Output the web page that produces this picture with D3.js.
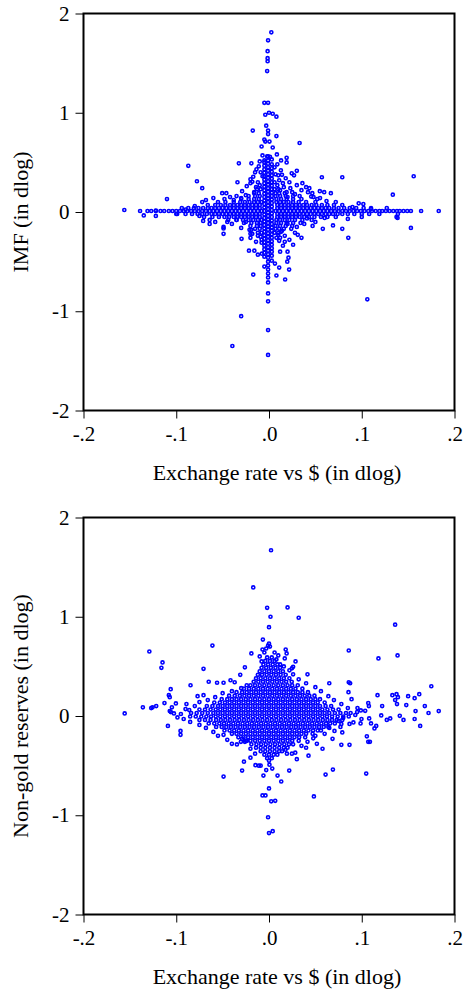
<!DOCTYPE html>
<html>
<head>
<meta charset="utf-8">
<script src="https://cdn.jsdelivr.net/npm/d3@7"></script>
<style>
  body { margin: 0; background: #fff; }
  svg text { font-family: "Liberation Serif", "DejaVu Serif", serif; }
</style>
</head>
<body>
<div id="chart"></div>
<script>
// axis labels
const xTicks = [-0.2, -0.1, 0, 0.1, 0.2];
const xTickLabels = ["-.2", "-.1", ".0", ".1", ".2"];
const yTicks = [-2, -1, 0, 1, 2];
const xTitle = "Exchange rate vs $ (in dlog)";
const imfTitle = "IMF (in dlog)";
const resTitle = "Non-gold reserves (in dlog)";

// IMF panel: dense horizontal band, rows of [y, [x...]]
const imfBandRows = [
  [.01, [-.139,-.131,-.127,-.122,-.117,-.113,-.108,-.104,-.1,-.096,-.092,-.088,-.084,-.08,-.076,-.072,-.068,-.064,-.06,-.056,-.052,-.048,-.044,-.04,-.036,-.032,-.028,-.024,-.02,-.016,-.012,-.008,.007,.011,.015,.019,.023,.027,.031,.035,.039,.043,.047,.051,.055,.059,.063,.067,.071,.075,.079,.083,.087,.091,.095,.099,.103,.107,.111,.115,.119,.122,.126,.13,.134,.138,.141,.145,.149,.153,.164,.183]],
  [.04, [-.094,-.087,-.081,-.076,-.071,-.066,-.062,-.058,-.054,-.05,-.046,-.042,-.038,-.034,-.03,-.026,-.022,-.018,-.014,-.01,.009,.013,.017,.021,.025,.029,.033,.037,.041,.045,.049,.053,.057,.061,.065,.07,.075,.081,.087,.094,.102,.11,.127]],
  [-.02, [-.099,-.09,-.083,-.077,-.072,-.067,-.062,-.058,-.054,-.05,-.046,-.042,-.038,-.034,-.03,-.026,-.022,-.018,-.014,-.01,.009,.013,.017,.021,.025,.029,.033,.037,.041,.045,.049,.053,.057,.061,.065,.069,.074,.079,.085,.092,.1,.108,.119,.139]],
  [.07, [-.066,-.058,-.052,-.047,-.042,-.038,-.034,-.03,-.026,-.022,-.018,-.014,-.01,.009,.013,.017,.021,.025,.029,.033,.037,.041,.046,.051,.057,.063,.07,.079]],
  [-.05, [-.07,-.061,-.054,-.048,-.043,-.038,-.034,-.03,-.026,-.022,-.018,-.014,-.01,.009,.013,.017,.021,.025,.029,.033,.038,.043,.049,.056,.063,.072]],
  [.10, [-.047,-.038,-.031,-.026,-.021,-.016,-.012,-.008,.008,.012,.016,.021,.026,.032,.04,.05]],
  [-.08, [-.044,-.035,-.028,-.022,-.017,-.012,-.008,.008,.012,.017,.022,.028,.036,.046]],
  [.13, [-.03,-.022,-.016,-.011,.008,.013,.019,.026,.035]],
  [-.11, [-.027,-.019,-.013,-.009,.008,.013,.019,.026,.034]],
  [.16, [-.022,-.015,-.01,.007,.012,.018,.026]],
  [-.14, [-.02,-.013,-.009,.007,.012,.018,.025]],
  [.19, [-.016,-.011,.007,.011,.017]],
  [-.17, [-.015,-.01,.007,.011,.016]],
  [.23, [-.013,-.009,.006,.01]],
  [-.21, [-.012,-.008,.006,.01]]
];

// IMF panel: vertical spine near x = 0, columns of [x, [y...]]
const imfSpineCols = [
  [-.001, [.56,.52,.485,.45,.415,.38,.345,.31,.275,.24,.205,.17,.135,.1,.065,.03,-.005,-.04,-.075,-.11,-.145,-.18,-.215,-.25,-.285,-.32,-.355,-.39,-.425,-.46,-.5,-.54,-.58,-.62]],
  [-.005, [.5,.465,.43,.395,.36,.325,.29,.255,.22,.185,.15,.115,.08,.045,.01,-.025,-.06,-.095,-.13,-.165,-.2,-.235,-.27,-.305,-.34,-.375,-.41,-.45]],
  [.003, [.53,.48,.44,.405,.37,.335,.3,.265,.23,.195,.16,.125,.09,.055,.02,-.015,-.05,-.085,-.12,-.155,-.19,-.225,-.26,-.295,-.33,-.365,-.4,-.44,-.49]]
];

// IMF panel: scattered points [x, y]
const imfScatter = [
  [.0025,1.81],[-.001,1.73],[-.0015,1.62],[-.0015,1.55],[-.0015,1.52],[-.002,1.42],
  [-.005,1.10],[-.001,1.10],[-.004,.98],[0,1.0],[.004,.99],[.008,.96],
  [-.0175,.82],[-.003,.87],[-.001,.82],[-.001,.785],[-.005,.73],[-.004,.71],[.0005,.71],[.008,.765],[.033,.695],[-.008,.66],[.0085,.58],[-.007,.57],[-.002,.56],[.001,.556],
  [.019,.546],[.019,.50],[.013,.52],[-.0325,.49],[-.019,.49],[-.01,.51],[-.005,.52],
  [-.087,.465],[-.0135,.43],[-.015,.40],[-.017,.355],[-.018,.305],[-.009,.40],[-.007,.36],
  [.0128,.42],[.0245,.39],[.03,.415],[.027,.37],[.057,.35],[.079,.35],[.01,.37],[.014,.375],
  [-.0777,.31],[-.072,.24],[-.034,.30],[-.029,.21],[-.0505,.19],[-.046,.19],[-.024,.26],[-.02,.29],
  [.0435,.24],[.0467,.19],[.0455,.155],[.0548,.21],[.0595,.20],[.0667,.19],
  [-.110,.13],[-.072,.10],[-.068,.12],[.1335,.175],[.156,.36],
  [.0967,.087],[.1017,.08],[.062,.11],[.072,.10],[.052,.13],
  [.018,.34],[.022,.30],[.03,.27],[.036,.29],[.04,.25],[.006,.45],[.011,.32],[.016,.25],[.025,.2],[.033,.16],
  [-.025,.17],[-.03,.14],[-.038,.12],[-.055,.1],[-.06,.14],[.006,.30],[.009,.27],[.004,.65],[-.01,.27],
  [-.014,.25],[-.012,.3],[-.016,.2],[.012,.22],[.015,.29],[.019,.2],[.023,.24],[.028,.18],[.035,.22],[.042,.2],
  [.048,.15],[.055,.14],[-.035,.16],[-.042,.15],[-.048,.13],[-.02,.33],[.007,.38],[.009,.48],[-.011,.46],[.02,.15],
  [-.122,-.04],[-.071,-.09],[-.064,-.08],[-.064,-.12],[-.049,-.15],[-.049,-.165],[-.049,-.22],[-.0296,-.27],[-.021,-.18],[-.02,-.22],
  [-.0216,-.39],[-.0158,-.39],[-.012,-.43],[-.0077,-.42],
  [-.001,-.66],[-.001,-.71],[-.005,-.55],[-.017,-.63],[.0064,-.52],[.011,-.56],[.008,-.64],[.0174,-.68],[.021,-.46],[.0197,-.50],[.0217,-.58],
  [-.001,-.82],[-.001,-.90],[-.030,-1.05],[-.001,-1.19],[-.0395,-1.35],[-.001,-1.44],[.106,-.88],
  [.041,-.065],[.047,-.14],[.058,-.17],[.069,-.135],[.0855,-.26],[.079,-.17],
  [.035,-.26],[.031,-.23],[.028,-.21],[.024,-.17],[.008,-.26],[.011,-.29],[.012,-.26],[.01,-.23],
  [-.019,-.18],[-.018,-.22],[-.008,-.31],[-.008,-.28],[-.009,-.25],[.015,-.34],[.017,-.3],[.02,-.4],[.026,-.33],[.012,-.4],
  [-.02,-.26],[-.014,-.3],[.013,-.2],[.017,-.24],[.022,-.28],[-.012,-.24],[.03,-.15],[.038,-.12],[-.03,-.16],[-.045,-.1],
  [.1386,-.06],[.153,-.16],[.1375,-.05],[-.156,.02],[-.135,-.035],[-.122,.015],
  [-.09,.025],[-.1,-.02],[.1,-.05],[.09,.05],[.085,-.07],[.11,.03],[-.075,-.04],[-.08,.06],[-.058,-.1],
  [.014,-.19],[.02,-.12],[-.025,-.1],[-.035,-.08],[.05,-.1],[.06,-.06],[-.04,-.12]
];

// Reserves panel: dense core, rows of [y, [x...]]
const resCoreRows = [
  [.59, [-.002,.003]],
  [.555, [-.004,.001,.006]],
  [.52, [-.006,-.001,.004,.009]],
  [.485, [-.008,-.003,.002,.007,.012]],
  [.45, [-.01,-.005,0,.005,.01,.015]],
  [.415, [-.012,-.0075,-.0025,.0025,.0075,.0125,.018]],
  [.38, [-.014,-.009,-.004,.001,.006,.011,.016,.022]],
  [.345, [-.0165,-.0115,-.0065,-.0015,.0035,.0085,.0135,.0185,.0245]],
  [.31, [-.02,-.015,-.01,-.005,0,.005,.01,.015,.02,.025,.031]],
  [.275, [-.027,-.0215,-.0165,-.0115,-.0065,-.0015,.0035,.0085,.0135,.0185,.0235,.0285,.036]],
  [.24, [-.035,-.029,-.024,-.019,-.014,-.009,-.004,.001,.006,.011,.016,.021,.026,.031,.036,.042]],
  [.205, [-.043,-.037,-.0315,-.0265,-.0215,-.0165,-.0115,-.0065,-.0015,.0035,.0085,.0135,.0185,.0235,.0285,.0335,.0385,.0435,.049]],
  [.17, [-.051,-.045,-.04,-.035,-.03,-.025,-.02,-.015,-.01,-.005,0,.005,.01,.015,.02,.025,.03,.035,.04,.045,.05,.055]],
  [.135, [-.059,-.053,-.0475,-.0425,-.0375,-.0325,-.0275,-.0225,-.0175,-.0125,-.0075,-.0025,.0025,.0075,.0125,.0175,.0225,.0275,.0325,.0375,.0425,.0475,.0525,.06]],
  [.10, [-.067,-.061,-.055,-.05,-.045,-.04,-.035,-.03,-.025,-.02,-.015,-.01,-.005,0,.005,.01,.015,.02,.025,.03,.035,.04,.045,.05,.055,.061,.067]],
  [.065, [-.075,-.069,-.063,-.0575,-.0525,-.0475,-.0425,-.0375,-.0325,-.0275,-.0225,-.0175,-.0125,-.0075,-.0025,.0025,.0075,.0125,.0175,.0225,.0275,.0325,.0375,.0425,.0475,.0525,.0575,.063,.069,.075]],
  [.03, [-.084,-.078,-.072,-.066,-.06,-.055,-.05,-.045,-.04,-.035,-.03,-.025,-.02,-.015,-.01,-.005,0,.005,.01,.015,.02,.025,.03,.035,.04,.045,.05,.055,.06,.065,.071,.077,.083,.088]],
  [-.005, [-.085,-.079,-.073,-.0675,-.0625,-.0575,-.0525,-.0475,-.0425,-.0375,-.0325,-.0275,-.0225,-.0175,-.0125,-.0075,-.0025,.0025,.0075,.0125,.0175,.0225,.0275,.0325,.0375,.0425,.0475,.0525,.0575,.0625,.068,.074,.08,.086]],
  [-.04, [-.075,-.069,-.063,-.057,-.052,-.047,-.042,-.037,-.032,-.027,-.022,-.017,-.012,-.007,-.002,.003,.008,.013,.018,.023,.028,.033,.038,.043,.048,.053,.058,.063,.068,.073,.079]],
  [-.075, [-.065,-.059,-.0535,-.0485,-.0435,-.0385,-.0335,-.0285,-.0235,-.0185,-.0135,-.0085,-.0035,.0015,.0065,.0115,.0165,.0215,.0265,.0315,.0365,.0415,.0465,.0515,.0565,.0615,.066,.071]],
  [-.11, [-.057,-.051,-.046,-.041,-.036,-.031,-.026,-.021,-.016,-.011,-.006,-.001,.004,.009,.014,.019,.024,.029,.034,.039,.044,.049,.054,.059,.064]],
  [-.145, [-.048,-.0425,-.0375,-.0325,-.0275,-.0225,-.0175,-.0125,-.0075,-.0025,.0025,.0075,.0125,.0175,.0225,.0275,.0325,.0375,.0425,.0475,.0525,.056]],
  [-.18, [-.04,-.035,-.03,-.025,-.02,-.015,-.01,-.005,0,.005,.01,.015,.02,.025,.03,.035,.04,.047]],
  [-.215, [-.033,-.0275,-.0225,-.0175,-.0125,-.0075,-.0025,.0025,.0075,.0125,.0175,.0225,.0275,.0325,.039]],
  [-.25, [-.025,-.02,-.015,-.01,-.005,0,.005,.01,.015,.02,.025,.032]],
  [-.285, [-.019,-.0135,-.0085,-.0035,.0015,.0065,.0115,.0165,.0215,.026]],
  [-.32, [-.014,-.009,-.004,.001,.006,.011,.016,.02]],
  [-.355, [-.009,-.004,.001,.006,.011,.014]],
  [-.39, [-.005,0,.005,.009]],
  [-.425, [-.002,.003]]
];

// Reserves panel: scattered points [x, y]
const resScatter = [
  [.0022,1.67],[-.017,1.295],[-.002,1.09],[.020,1.094],[.0016,1.0],[.032,.99],[0,.895],[.136,.92],[-.0066,.77],[0,.73],[.001,.70],[-.061,.71],[-.129,.65],[-.019,.63],[.086,.66],[.1386,.61],[.118,.58],[-.1148,.54],[-.116,.485],[-.0706,.475],[-.026,.49],
  [-.007,.67],[-.003,.68],[-.001,.71],[.018,.67],[.019,.63],[.017,.58],[.008,.57],[.012,.52],[.016,.50],[.0286,.55],[.026,.495],[.0247,.48],[.0415,.42],[-.0846,.31],
  [-.065,.345],[-.056,.335],[-.049,.335],[-.0415,.36],[-.037,.34],[-.031,.415],[.065,.33],[.086,.34],[.0875,.33],
  [-.106,.27],[-.108,.21],[-.107,.19],[-.0706,.21],[-.077,.20],[.0857,.24],[.089,.17],[.117,.21],
  [.133,.21],[.1375,.22],[.139,.19],[.136,.16],[.138,.12],[.107,.13],[.1077,.10],[.0954,.08],[.099,.056],[.1037,.052],[.122,.10],
  [-.1556,.026],[-.136,.087],[-.127,.08],[-.1256,.087],[-.1216,.10],[-.1127,.13],[-.1004,.127],[-.1047,.087],
  [-.107,.05],[-.1058,.04],[-.1025,.026],[-.0987,-.014],[-.109,-.10],[-.0954,-.15],[-.0954,-.19],[-.089,.12],[-.086,.06],
  [.121,.006],[.127,-.04],[.1307,-.024],[.141,.002],[.11,-.075],[.108,-.024],[.1137,-.125],[.1156,-.10],[.1055,-.205],[.107,-.26],[.1088,-.26],
  [.0997,-.03],[.0987,-.075],[.091,-.065],[.0868,-.08],[.078,-.08],[.077,-.11],[.079,-.165],[.078,-.29],[.0868,-.29],
  [.0706,-.15],[.0685,-.23],[.0577,-.33],[.0516,-.28],[.0477,-.225],[.0415,-.26],[.0426,-.40],[.030,-.435],[.0283,-.37],[.0247,-.38],[.0193,-.38],[.0178,-.34],
  [.0689,-.54],[.061,-.59],[.1048,-.58],[.0484,-.81],[.0218,-.55],[.0092,-.60],[.0035,-.53],[.0132,-.66],
  [0,-.45],[.0005,-.49],[-.003,-.545],[-.006,-.60],[-.011,-.50],[-.0146,-.495],[-.009,-.50],[-.027,-.46],[-.029,-.55],[-.049,-.61],
  [0,-.73],[-.007,-.80],[-.0038,-.80],[.0024,-.86],[.0067,-.855],[-.001,-1.02],[0,-1.18],[.004,-1.16],
  [-.049,-.19],[-.026,-.26],[-.029,-.23],[-.0346,-.286],[-.0303,-.26],[-.0238,-.25],
  [.150,.20],[.157,.18],[.162,.22],[.175,.30],[.168,.10],[.158,.05],[.172,.03],[.183,.05],[.157,-.03],[.163,-.10],[.145,-.04],[.148,.11],
  [-.075,.14],[-.08,.1],[-.09,.07],[-.095,.02],[-.092,-.03],[-.085,-.06],[-.075,-.09],[-.068,-.12],[-.06,-.16],[-.055,-.2],[-.045,-.24],[-.04,-.28],[-.02,-.33],[-.015,-.38],[-.02,-.42],
  [.04,-.32],[.035,-.3],[.05,-.2],[.06,-.18],[.065,-.12],[.075,-.05],[.08,-.02],[.093,.01],[.095,.04],[.085,.08],[.078,.12],[.07,.16],[.064,.2],[.056,.25],[.05,.29],[.04,.33],[.032,.37],[.026,.42],[.022,.46],
  [-.024,.31],[-.03,.28],[-.04,.25],[-.05,.23],[-.058,.19],[-.066,.16],[-.008,.55],[-.01,.6],[.01,.61],[.006,.64],[-.005,.64]
];

function rowsToPoints(rows) {
  const pts = [];
  rows.forEach(([y, xs]) => xs.forEach(x => pts.push([x, y])));
  return pts;
}

function colsToPoints(cols) {
  const pts = [];
  cols.forEach(([x, ys]) => ys.forEach(y => pts.push([x, y])));
  return pts;
}

const W = 464, H = 991;
const left = 83.5, right = 454.5, plotH = 397;

const svg = d3.select("#chart").append("svg")
    .attr("width", W)
    .attr("height", H);

function drawPanel(top, points, yTitle) {
    const x = d3.scaleLinear().domain([-0.2, 0.2]).range([left, right]);
    const y = d3.scaleLinear().domain([-2, 2]).range([top + plotH, top]);
    const g = svg.append("g");

    // x axis
    g.append("g")
        .attr("transform", "translate(0," + (top + plotH) + ")")
        .call(d3.axisBottom(x).tickValues(xTicks)
            .tickFormat((d, i) => xTickLabels[i])
            .tickSize(8).tickPadding(8))
        .call(a => a.select(".domain").remove())
        .attr("font-size", 21)
        .attr("font-family", null)
        .selectAll("text").attr("fill", "#000");

    // y axis
    g.append("g")
        .attr("transform", "translate(" + left + ",0)")
        .call(d3.axisLeft(y).tickValues(yTicks)
            .tickFormat(d => String(d))
            .tickSize(8).tickPadding(6))
        .call(a => a.select(".domain").remove())
        .attr("font-size", 21)
        .attr("font-family", null)
        .selectAll("text").attr("fill", "#000");

    // points
    g.append("g").selectAll("circle")
        .data(points)
        .join("circle")
        .attr("cx", d => x(d[0]))
        .attr("cy", d => y(d[1]))
        .attr("r", 1.55)
        .attr("fill", "none")
        .attr("stroke", "#0000ff")
        .attr("stroke-width", 1.6);

    // frame
    g.append("rect")
        .attr("x", left).attr("y", top)
        .attr("width", right - left).attr("height", plotH)
        .attr("fill", "none")
        .attr("stroke", "#000")
        .attr("stroke-width", 2);

    // titles
    g.append("text")
        .attr("x", 277).attr("y", top + plotH + 69)
        .attr("text-anchor", "middle")
        .attr("font-size", 22)
        .text(xTitle);

    g.append("text")
        .attr("transform", "translate(28," + (top + plotH / 2) + ") rotate(-90)")
        .attr("text-anchor", "middle")
        .attr("font-size", 22)
        .text(yTitle);
}

const imfPoints = rowsToPoints(imfBandRows)
    .concat(colsToPoints(imfSpineCols), imfScatter);
const resPoints = rowsToPoints(resCoreRows).concat(resScatter);

drawPanel(13.5, imfPoints, imfTitle);
drawPanel(517.5, resPoints, resTitle);
</script>
</body>
</html>
